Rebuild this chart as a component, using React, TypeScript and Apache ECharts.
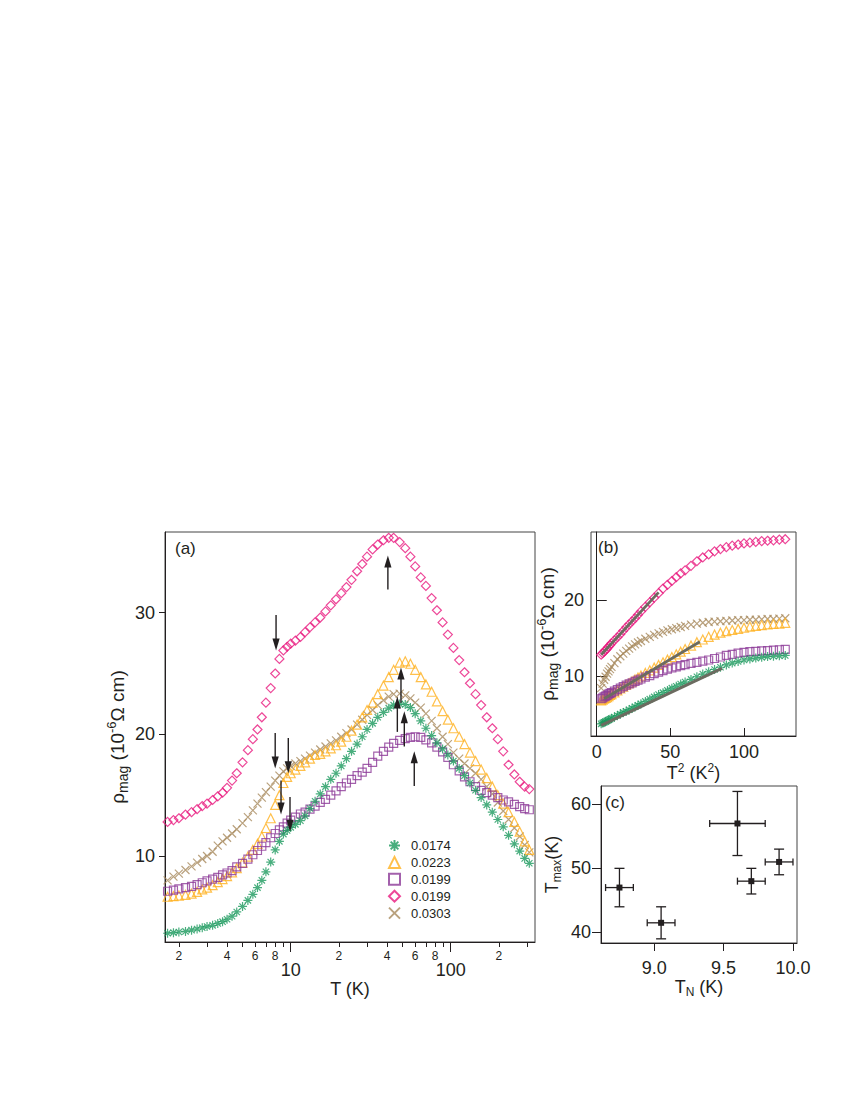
import React, { useEffect, useRef } from 'react';
import * as echarts from 'echarts';

const FONT = '"Liberation Sans", Arial, Helvetica, sans-serif';
const INK = '#231f20';
const C_GREEN = '#1b9a5e';
const C_ORANGE = '#ffb01e';
const C_PURPLE = '#8c3a97';
const C_MAGENTA = '#e8197e';
const C_TAN = '#a8895c';
const C_FIT = '#6c6b60';

// ---------- Panel (a): rho_mag vs T (log T) ----------
const tA = [1.7, 1.85, 2.0, 2.2, 2.4, 2.6, 2.8, 3.0, 3.25, 3.5, 3.75, 4.0, 4.3, 4.6, 5.0, 5.4, 5.8, 6.2, 6.6, 7.0,
  7.5, 8.0, 8.5, 9.0, 9.5, 10, 10.7, 11.5, 12.3, 13.2, 14.2, 15.3, 16.5, 17.8, 19.2, 20.7, 22.3, 24, 26, 28,
  30, 32.5, 35, 38, 41, 44, 48, 52, 56, 60, 65, 70, 76, 82, 89, 96, 104, 113, 122, 132,
  143, 155, 168, 182, 197, 213, 230, 250, 270, 290, 310];

const aGreen0174 = [3.65, 3.7, 3.75, 3.8, 3.9, 4.0, 4.1, 4.2, 4.3, 4.45, 4.6, 4.8, 5.05, 5.4, 5.85, 6.35, 6.85, 7.4, 8.0, 8.7,
  9.5, 10.5, 11.2, 11.8, 12.1, 12.35, 12.6, 12.9, 13.3, 13.9, 14.5, 15.1, 15.7, 16.3, 16.8, 17.4, 18.0, 18.6, 19.2, 19.8,
  20.4, 20.9, 21.4, 21.8, 22.15, 22.4, 22.5, 22.45, 22.2, 21.7, 21.1, 20.5, 19.9, 19.3, 18.8, 18.3, 17.8, 17.2, 16.6, 16.0,
  15.4, 14.8, 14.2, 13.6, 13.0, 12.4, 11.7, 11.0, 10.4, 9.8, 9.4];

const aOrange0223 = [6.65, 6.7, 6.75, 6.8, 6.9, 7.05, 7.25, 7.4, 7.6, 7.85, 8.1, 8.35, 8.65, 9.0, 9.45, 9.95, 10.5, 11.0, 11.6, 12.3,
  13.1, 14.2, 15.0, 16.0, 16.5, 16.8, 17.1, 17.4, 17.7, 18.0, 18.3, 18.4, 18.6, 18.85, 19.1, 19.4, 19.8, 20.3, 20.8, 21.4,
  22.0, 22.6, 23.3, 24.0, 24.7, 25.3, 25.9, 26.0, 25.8, 25.3, 24.7, 24.1, 23.5, 22.7, 21.9, 21.2, 20.5, 19.8, 19.2, 18.5,
  17.8, 17.1, 16.4, 15.7, 15.0, 14.3, 13.6, 12.8, 12.0, 11.2, 10.5];

const aPurple0199 = [7.1, 7.2, 7.3, 7.4, 7.5, 7.65, 7.8, 7.95, 8.1, 8.25, 8.45, 8.6, 8.8, 9.1, 9.4, 9.75, 10.1, 10.45, 10.8, 11.1,
  11.5, 11.85, 12.15, 12.4, 12.7, 12.95, 13.2, 13.45, 13.6, 13.85, 14.1, 14.4, 14.65, 15.0, 15.35, 15.7, 16.0, 16.3, 16.6, 16.9,
  17.2, 17.7, 18.2, 18.6, 18.95, 19.25, 19.5, 19.65, 19.75, 19.8, 19.75, 19.55, 19.3, 18.95, 18.55, 18.1, 17.5, 17.0, 16.5, 16.1,
  15.7, 15.4, 15.2, 15.0, 14.8, 14.6, 14.45, 14.25, 14.05, 13.9, 13.8];

const aMagenta0199 = [12.8, 12.95, 13.1, 13.4, 13.6, 13.85, 14.1, 14.3, 14.6, 14.9, 15.2, 15.6, 16.2, 16.8, 17.7, 18.7, 19.6, 20.4, 21.4, 22.6,
  23.8, 25.0, 26.2, 26.9, 27.2, 27.45, 27.7, 28.0, 28.4, 28.8, 29.2, 29.6, 30.1, 30.6, 31.1, 31.6, 32.1, 32.7, 33.4, 34.0,
  34.6, 35.2, 35.6, 35.95, 36.15, 36.15, 35.8, 35.3, 34.6, 33.8, 32.9, 32.2, 31.2, 30.2, 29.2, 28.2, 27.1, 26.1, 25.1, 24.2,
  23.3, 22.4, 21.4, 20.5, 19.6, 18.6, 17.5, 16.7, 16.1, 15.7, 15.5];

const aTan0303 = [8.0, 8.3, 8.55, 8.85, 9.15, 9.45, 9.75, 10.0, 10.35, 10.85, 11.2, 11.5, 11.85, 12.2, 12.7, 13.2, 13.75, 14.3, 14.8, 15.25,
  15.7, 16.2, 16.6, 16.95, 17.2, 17.4, 17.6, 17.8, 18.0, 18.25, 18.5, 18.75, 19.0, 19.25, 19.5, 19.8, 20.1, 20.4, 20.8, 21.2,
  21.6, 22.0, 22.4, 22.8, 23.1, 23.3, 23.35, 23.2, 22.95, 22.6, 22.2, 21.7, 21.1, 20.5, 19.8, 19.2, 18.5, 18.0, 17.6, 17.2,
  16.8, 16.3, 15.7, 15.1, 14.4, 13.7, 13.0, 12.3, 11.6, 10.9, 10.3];

// arrows: [T, rho at tail, rho at head]
const arrowsA = [
  [8.1, 29.8, 26.9],
  [40.5, 31.9, 34.7],
  [8.0, 20.1, 17.2],
  [9.66, 19.7, 16.8],
  [8.7, 16.2, 13.4],
  [9.9, 14.85, 12.0],
  [48.9, 22.6, 25.5],
  [46.4, 20.2, 23.1],
  [51.3, 19.0, 21.9],
  [59.2, 15.75, 18.6],
];

const xMinorTicksA = [2, 3, 4, 5, 6, 7, 8, 9, 20, 30, 40, 50, 60, 70, 80, 90, 200, 300];
const xMinorLabelsA = [2, 4, 6, 8, 20, 40, 60, 80, 200];
const xMajorA = [10, 100];
const yTicksA = [10, 20, 30];

// ---------- Panel (b): rho_mag vs T^2 ----------
const t2B = [3, 4, 5, 6, 7, 8, 9, 10, 12, 14, 16, 18, 20, 22, 24, 26, 28, 30, 33, 36, 39, 42, 45, 48, 51, 54, 57, 60,
  64, 68, 72, 76, 80, 84, 88, 92, 96, 100, 104, 108, 112, 116, 120, 124, 128];

const bMagenta = [12.8, 13.0, 13.2, 13.4, 13.6, 13.85, 14.05, 14.3, 14.7, 15.1, 15.5, 15.95, 16.4, 16.8, 17.2, 17.6, 18.05, 18.5,
  19.1, 19.7, 20.3, 20.9, 21.5, 22.0, 22.5, 23.0, 23.5, 23.9, 24.5, 25.1, 25.6, 26.0, 26.4, 26.7, 26.95, 27.15, 27.3, 27.45,
  27.55, 27.65, 27.75, 27.8, 27.85, 27.95, 28.0];
const bTan = [8.4, 9.0, 9.5, 9.9, 10.3, 10.6, 10.9, 11.2, 11.7, 12.2, 12.6, 12.95, 13.3, 13.6, 13.9, 14.15, 14.4, 14.6,
  14.9, 15.15, 15.4, 15.6, 15.8, 16.0, 16.15, 16.3, 16.45, 16.6, 16.75, 16.9, 17.0, 17.1, 17.15, 17.2, 17.25, 17.3, 17.35,
  17.35, 17.4, 17.4, 17.45, 17.5, 17.5, 17.55, 17.6];
const bOrange = [6.8, 6.9, 7.0, 7.1, 7.2, 7.35, 7.5, 7.6, 7.85, 8.1, 8.35, 8.6, 8.85, 9.05, 9.3, 9.55, 9.8, 10.05,
  10.4, 10.75, 11.1, 11.45, 11.8, 12.15, 12.5, 12.85, 13.2, 13.55, 14.0, 14.45, 14.8, 15.15, 15.45, 15.7, 15.9, 16.05,
  16.2, 16.35, 16.5, 16.6, 16.7, 16.8, 16.85, 16.9, 17.0];
const bPurple = [7.0, 7.1, 7.25, 7.35, 7.45, 7.6, 7.7, 7.8, 8.0, 8.2, 8.4, 8.6, 8.8, 8.95, 9.1, 9.3, 9.45, 9.6,
  9.85, 10.05, 10.3, 10.5, 10.7, 10.9, 11.05, 11.2, 11.35, 11.5, 11.65, 11.8, 11.95, 12.1, 12.3, 12.5, 12.7, 12.85,
  13.0, 13.1, 13.2, 13.25, 13.3, 13.35, 13.4, 13.45, 13.5];
const bGreen = [3.7, 3.8, 3.9, 4.0, 4.1, 4.2, 4.3, 4.4, 4.6, 4.8, 5.0, 5.2, 5.35, 5.55, 5.75, 5.95, 6.15, 6.35,
  6.65, 6.95, 7.25, 7.55, 7.8, 8.1, 8.4, 8.65, 8.95, 9.2, 9.55, 9.9, 10.25, 10.55, 10.85, 11.15, 11.45, 11.7,
  11.9, 12.1, 12.25, 12.35, 12.45, 12.55, 12.6, 12.65, 12.7];

const fitMagenta = [[3, 12.8], [42, 21.0]];
const fitOrange = [[5, 7.0], [70, 14.5]];
const fitGreen = [[3, 3.5], [85, 11.0]];

const xTicksB = [0, 50, 100];
const yTicksB = [10, 20];

// ---------- Panel (c): T_max vs T_N ----------
const tN = [8.75, 9.05, 9.6, 9.7, 9.9];
const tNErr = [0.1, 0.1, 0.2, 0.1, 0.1];
const tMax = [47, 41.5, 57, 48, 51];
const tMaxErr = [3, 2.5, 5, 2, 2];
const xTicksC = [9.0, 9.5, 10.0];
const yTicksC = [40, 50, 60];

const SYM_AST = 'path://M5,0L5,10M0,5L10,5M1.5,1.5L8.5,8.5M1.5,8.5L8.5,1.5';
const SYM_X = 'path://M0,0L10,10M0,10L10,0';

const lg = (v: number) => Math.log10(v);

const hollow = (c: string) => ({ color: 'rgba(0,0,0,0)', borderColor: c, borderWidth: 1.2 });

const nameRich = {
  t: { fontSize: 18, fontFamily: FONT, color: INK },
  sub: { fontSize: 12, fontFamily: FONT, color: INK, padding: [11, 0, 0, 0] },
  sup: { fontSize: 12, fontFamily: FONT, color: INK, padding: [0, 0, 10, 0] },
};
const rhoRich = {
  t: { fontSize: 19, fontFamily: FONT, color: INK },
  sub: { fontSize: 14, fontFamily: FONT, color: INK, padding: [12, 0, 0, 0] },
  sup: { fontSize: 13, fontFamily: FONT, color: INK, padding: [0, 0, 11, 0] },
};

function App() {
  const ref = useRef<HTMLDivElement>(null);
  useEffect(() => {
    if (!ref.current) return;
    const chart = echarts.init(ref.current, null, { renderer: 'svg' });

    const aSeries = (name: string, vals: number[], symbol: string, size: number, color: string, z: number) => ({
      type: 'scatter', name, xAxisIndex: 0, yAxisIndex: 0, z,
      symbol, symbolSize: size, itemStyle: hollow(color),
      data: tA.map((t, i) => [lg(t), vals[i]]),
    });
    const bSeries = (name: string, vals: number[], symbol: string, size: number, color: string, z: number) => ({
      type: 'scatter', name, xAxisIndex: 2, yAxisIndex: 1, z,
      symbol, symbolSize: size, itemStyle: hollow(color),
      data: t2B.map((t, i) => [t, vals[i]]),
    });
    const fit = (name: string, pts: number[][]) => ({
      type: 'line', name, xAxisIndex: 2, yAxisIndex: 1, z: 10, symbol: 'none',
      lineStyle: { color: C_FIT, width: 2.8 }, data: pts,
    });

    const axisLine = { show: true, lineStyle: { color: INK, width: 1 } };
    const labelBase = { color: INK, fontFamily: FONT, fontSize: 18 };

    const option: any = {
      animation: false,
      textStyle: { fontFamily: FONT, color: INK },
      grid: [
        { left: 165, top: 532, width: 370, height: 410, show: true, borderColor: '#444', borderWidth: 1 },
        { left: 591, top: 532, width: 205, height: 204, show: true, borderColor: '#444', borderWidth: 1 },
        { left: 601, top: 786, width: 196, height: 157, show: true, borderColor: '#444', borderWidth: 1 },
      ],
      xAxis: [
        {
          gridIndex: 0, type: 'value', position: 'bottom', min: lg(1.638), max: lg(336.5),
          axisLine, splitLine: { show: false },
          axisTick: { show: true, inside: false, length: 5, customValues: xMinorTicksA.map(lg), lineStyle: { color: INK } },
          axisLabel: {
            ...labelBase, fontSize: 12, margin: 8, customValues: xMinorLabelsA.map(lg),
            formatter: (v: number) => String(Math.round(Math.pow(10, v) / Math.pow(10, Math.floor(v + 1e-9)))),
          },
        },
        {
          gridIndex: 0, type: 'value', position: 'bottom', min: lg(1.638), max: lg(336.5),
          axisLine: { show: false }, splitLine: { show: false },
          axisTick: { show: true, inside: false, length: 10, customValues: xMajorA.map(lg), lineStyle: { color: INK } },
          axisLabel: { ...labelBase, margin: 19, customValues: xMajorA.map(lg), formatter: (v: number) => String(Math.round(Math.pow(10, v))) },
          name: 'T (K)', nameLocation: 'middle', nameGap: 36,
          nameTextStyle: { fontSize: 18, fontFamily: FONT, color: INK },
        },
        {
          gridIndex: 1, type: 'value', min: -3.9, max: 135.3,
          axisLine, splitLine: { show: false },
          axisTick: { show: true, inside: true, length: 8, customValues: xTicksB, lineStyle: { color: INK } },
          axisLabel: { ...labelBase, margin: 7, customValues: xTicksB },
          name: '{t|T}{sup|2}{t| (K}{sup|2}{t|)}', nameLocation: 'middle', nameGap: 24,
          nameTextStyle: { fontSize: 18, fontFamily: FONT, color: INK, rich: nameRich },
        },
        {
          gridIndex: 2, type: 'value', min: 8.617, max: 10.029,
          axisLine, splitLine: { show: false },
          axisTick: { show: true, inside: false, length: 8, customValues: xTicksC, lineStyle: { color: INK } },
          axisLabel: { ...labelBase, margin: 16, customValues: xTicksC, formatter: (v: number) => v.toFixed(1) },
          name: '{t|T}{sub|N}{t| (K)}', nameLocation: 'middle', nameGap: 30,
          nameTextStyle: { fontSize: 18, fontFamily: FONT, color: INK, rich: nameRich },
        },
      ],
      yAxis: [
        {
          gridIndex: 0, type: 'value', min: 2.93, max: 36.63,
          axisLine, splitLine: { show: false },
          axisTick: { show: true, inside: false, length: 6, customValues: yTicksA, lineStyle: { color: INK } },
          axisLabel: { ...labelBase, margin: 10, customValues: yTicksA },
          name: '{t|ρ}{sub|mag}{t| (10}{sup|-6}{t|Ω cm)}', nameLocation: 'middle', nameGap: 35, nameRotate: 90,
          nameTextStyle: { fontSize: 19, fontFamily: FONT, color: INK, rich: rhoRich },
        },
        {
          gridIndex: 1, type: 'value', min: 2.1, max: 28.95,
          axisLine, splitLine: { show: false },
          axisTick: { show: true, inside: true, length: 10, customValues: yTicksB, lineStyle: { color: INK } },
          axisLabel: { ...labelBase, margin: 7, customValues: yTicksB },
          name: '{t|ρ}{sub|mag}{t| (10}{sup|-6}{t|Ω cm)}', nameLocation: 'middle', nameGap: 27, nameRotate: 90,
          nameTextStyle: { fontSize: 19, fontFamily: FONT, color: INK, rich: rhoRich },
        },
        {
          gridIndex: 2, type: 'value', min: 38.35, max: 62.85,
          axisLine, splitLine: { show: false },
          axisTick: { show: true, inside: false, length: 9, customValues: yTicksC, lineStyle: { color: INK } },
          axisLabel: { ...labelBase, margin: 10, customValues: yTicksC },
          name: '{t|T}{sub|max}{t|(K)}', nameLocation: 'middle', nameGap: 38, nameRotate: 90,
          nameTextStyle: { fontSize: 18, fontFamily: FONT, color: INK, rich: nameRich },
        },
      ],
      legend: {
        orient: 'vertical', left: 383, top: 834, itemWidth: 11, itemHeight: 11, itemGap: 3.9,
        data: ['0.0174', '0.0223', '0.0199', '0.0199 ', '0.0303'],
        formatter: (n: string) => n.trim(),
        textStyle: { fontFamily: FONT, fontSize: 13, color: INK, padding: [0, 0, 0, 6] },
        selectedMode: false,
      },
      graphic: [
        { type: 'text', left: 175, top: 540, style: { text: '(a)', font: `17px ${FONT}`, fill: INK } },
        { type: 'text', left: 598, top: 539, style: { text: '(b)', font: `17px ${FONT}`, fill: INK } },
        { type: 'text', left: 605, top: 794, style: { text: '(c)', font: `17px ${FONT}`, fill: INK } },
      ],
      series: [
        aSeries('0.0303', aTan0303, SYM_X, 8, C_TAN, 2),
        aSeries('0.0223', aOrange0223, 'triangle', 9, C_ORANGE, 3),
        aSeries('0.0199', aPurple0199, 'rect', 8, C_PURPLE, 4),
        aSeries('0.0174', aGreen0174, SYM_AST, 9, C_GREEN, 5),
        aSeries('0.0199 ', aMagenta0199, 'diamond', 9, C_MAGENTA, 6),
        {
          type: 'custom', name: 'arrows', xAxisIndex: 0, yAxisIndex: 0, z: 20,
          encode: { x: 0, y: [1, 2] },
          data: arrowsA.map(([t, a, b]) => [lg(t), a, b]),
          renderItem: (_p: any, api: any) => {
            const x = api.value(0);
            const p0 = api.coord([x, api.value(1)]);
            const p1 = api.coord([x, api.value(2)]);
            const dir = p1[1] > p0[1] ? 1 : -1;
            const headLen = 12;
            const headW = 3.6;
            const base = p1[1] - dir * headLen;
            return {
              type: 'group',
              children: [
                { type: 'line', shape: { x1: p0[0], y1: p0[1], x2: p0[0], y2: base + dir * 2 }, style: { stroke: INK, lineWidth: 1.4 } },
                { type: 'polygon', shape: { points: [[p1[0], p1[1]], [p1[0] - headW, base], [p1[0] + headW, base]] }, style: { fill: INK } },
              ],
            };
          },
        },
        bSeries('b0.0303', bTan, SYM_X, 8, C_TAN, 2),
        bSeries('b0.0223', bOrange, 'triangle', 9, C_ORANGE, 3),
        bSeries('b0.0199p', bPurple, 'rect', 8, C_PURPLE, 4),
        bSeries('b0.0174', bGreen, SYM_AST, 9, C_GREEN, 5),
        bSeries('b0.0199m', bMagenta, 'diamond', 9, C_MAGENTA, 6),
        fit('fitMagenta', fitMagenta),
        fit('fitOrange', fitOrange),
        fit('fitGreen', fitGreen),
        {
          type: 'custom', name: 'errorbars', xAxisIndex: 3, yAxisIndex: 2, z: 10,
          encode: { x: 0, y: 1 },
          data: tN.map((x, i) => [x, tMax[i], tNErr[i], tMaxErr[i]]),
          renderItem: (_p: any, api: any) => {
            const x = api.value(0), y = api.value(1), xe = api.value(2), ye = api.value(3);
            const c = api.coord([x, y]);
            const l = api.coord([x - xe, y]);
            const r = api.coord([x + xe, y]);
            const t = api.coord([x, y + ye]);
            const b = api.coord([x, y - ye]);
            const st = { stroke: INK, lineWidth: 1.3 };
            const capV = 3.5, capH = 5;
            return {
              type: 'group',
              children: [
                { type: 'line', shape: { x1: l[0], y1: l[1], x2: r[0], y2: r[1] }, style: st },
                { type: 'line', shape: { x1: l[0], y1: l[1] - capV, x2: l[0], y2: l[1] + capV }, style: st },
                { type: 'line', shape: { x1: r[0], y1: r[1] - capV, x2: r[0], y2: r[1] + capV }, style: st },
                { type: 'line', shape: { x1: t[0], y1: t[1], x2: b[0], y2: b[1] }, style: st },
                { type: 'line', shape: { x1: t[0] - capH, y1: t[1], x2: t[0] + capH, y2: t[1] }, style: st },
                { type: 'line', shape: { x1: b[0] - capH, y1: b[1], x2: b[0] + capH, y2: b[1] }, style: st },
                { type: 'rect', shape: { x: c[0] - 3, y: c[1] - 3, width: 6, height: 6 }, style: { fill: INK } },
              ],
            };
          },
        },
      ],
    };
    chart.setOption(option);
    return () => chart.dispose();
  }, []);
  return <div ref={ref} style={{ position: 'absolute', left: 0, top: 0, width: 850, height: 1100 }} />;
}

export default App;
